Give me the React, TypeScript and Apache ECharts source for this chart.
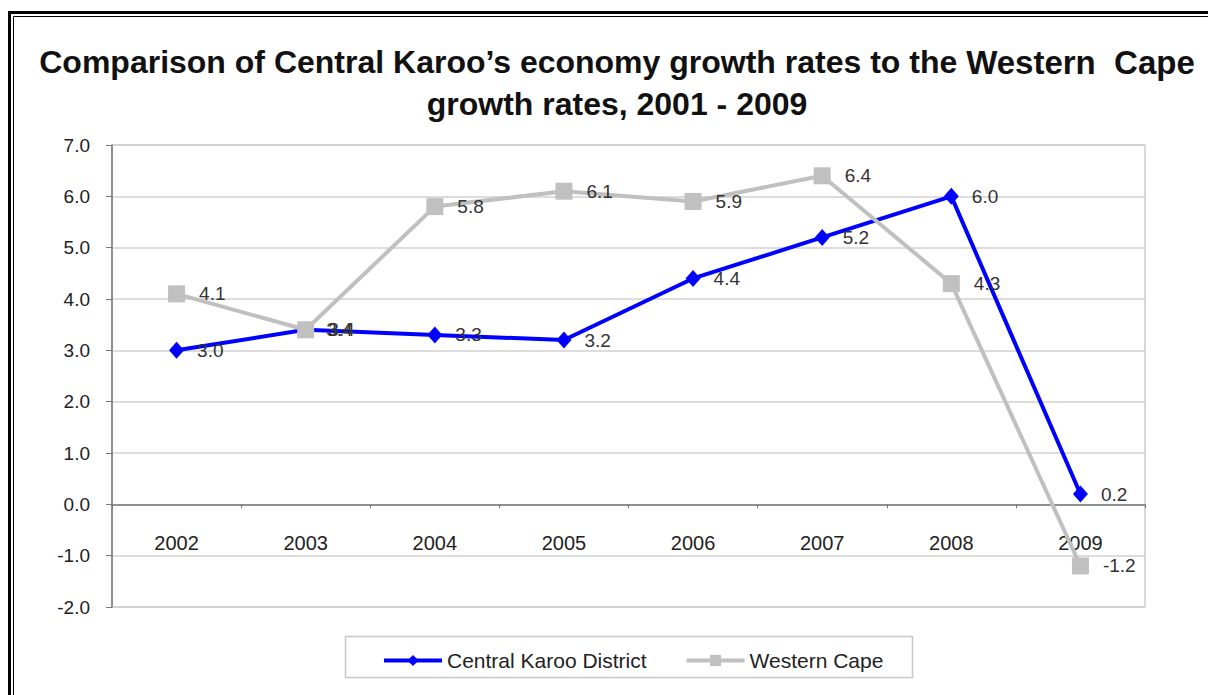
import React, { useEffect, useRef } from "react";
import * as echarts from "echarts";

const years = ["2002", "2003", "2004", "2005", "2006", "2007", "2008", "2009"];
const centralKaroo = [3.0, 3.4, 3.3, 3.2, 4.4, 5.2, 6.0, 0.2];
const westernCape = [4.1, 3.4, 5.8, 6.1, 5.9, 6.4, 4.3, -1.2];
const seriesNames = ["Central Karoo District", "Western Cape"];

const FONT = "Liberation Sans, Arial, sans-serif";

export default function App() {
  const ref = useRef<HTMLDivElement>(null);
  useEffect(() => {
    if (!ref.current) return;
    const chart = echarts.init(ref.current, null, { renderer: "svg" });
    const labelStyle = {
      show: true,
      position: "right" as const,
      distance: 13,
      fontFamily: FONT,
      fontSize: 19,
      color: "#333",
      formatter: (p: any) => Number(p.value).toFixed(1),
    };
    chart.setOption({
      animation: false,
      backgroundColor: "#fff",
      graphic: [
        {
          type: "rect",
          shape: { x: 9.5, y: 12.5, width: 1230, height: 720 },
          style: { fill: "none", stroke: "#000", lineWidth: 3 },
          silent: true,
        },
        {
          type: "rect",
          shape: { x: 13.5, y: 16.5, width: 1220, height: 710 },
          style: { fill: "none", stroke: "#000", lineWidth: 1 },
          silent: true,
        },
        {
          type: "rect",
          shape: { x: 345.5, y: 636.5, width: 567, height: 41 },
          style: { fill: "none", stroke: "#c8c8c8", lineWidth: 1.5 },
          silent: true,
        },
        {
          type: "text",
          x: 617,
          y: 41,
          style: {
            text: "{a|Comparison of Central Karoo’s economy growth rates to the }{b|Western  Cape}\n{a|growth rates, 2001 - 2009}",
            textAlign: "center",
            fill: "#111",
            rich: {
              a: {
                fontFamily: FONT,
                fontWeight: "bold",
                fontSize: 32,
                lineHeight: 42,
                fill: "#111",
              },
              b: {
                fontFamily: FONT,
                fontWeight: "bold",
                fontSize: 33,
                lineHeight: 42,
                fill: "#111",
              },
            },
          },
        },
      ],
      legend: {
        data: seriesNames,
        left: 382,
        top: 650,
        padding: 0,
        itemWidth: 58,
        itemHeight: 14,
        itemGap: 38,
        lineStyle: { width: 4 },
        textStyle: {
          fontFamily: FONT,
          fontSize: 21,
          color: "#222",
        },
      },
      grid: {
        left: 112,
        top: 145,
        width: 1033,
        height: 462,
        show: true,
        borderColor: "#b0b0b0",
        borderWidth: 1,
        containLabel: false,
      },
      xAxis: {
        type: "category",
        data: years,
        boundaryGap: true,
        axisLine: { onZero: true, lineStyle: { color: "#777", width: 1.5 } },
        axisTick: { show: true, length: 4, lineStyle: { color: "#777" } },
        axisLabel: {
          margin: -74,
          fontFamily: FONT,
          fontSize: 20,
          color: "#222",
        },
        splitLine: { show: false },
      },
      yAxis: {
        type: "value",
        min: -2,
        max: 7,
        interval: 1,
        axisLine: { show: true, lineStyle: { color: "#777", width: 1.5 } },
        axisTick: { show: true, length: 6, lineStyle: { color: "#777" } },
        axisLabel: {
          margin: 22,
          fontFamily: FONT,
          fontSize: 19,
          color: "#222",
          formatter: (v: number) => v.toFixed(1),
        },
        splitLine: { show: true, lineStyle: { color: "#d0d0d0", width: 1.5 } },
      },
      series: [
        {
          name: seriesNames[0],
          type: "line",
          data: centralKaroo,
          symbol: "diamond",
          symbolSize: [15, 17],
          lineStyle: { color: "#0000ff", width: 4 },
          itemStyle: { color: "#0000ff" },
          label: labelStyle,
          z: 2,
        },
        {
          name: seriesNames[1],
          type: "line",
          data: westernCape,
          symbol: "rect",
          symbolSize: 17,
          lineStyle: { color: "#c0c0c0", width: 4 },
          itemStyle: { color: "#c0c0c0" },
          label: { ...labelStyle, distance: 14 },
          z: 3,
        },
      ],
    });
    return () => chart.dispose();
  }, []);
  return (
    <div
      ref={ref}
      style={{ position: "fixed", left: 0, top: 0, width: 1208, height: 695 }}
    />
  );
}
